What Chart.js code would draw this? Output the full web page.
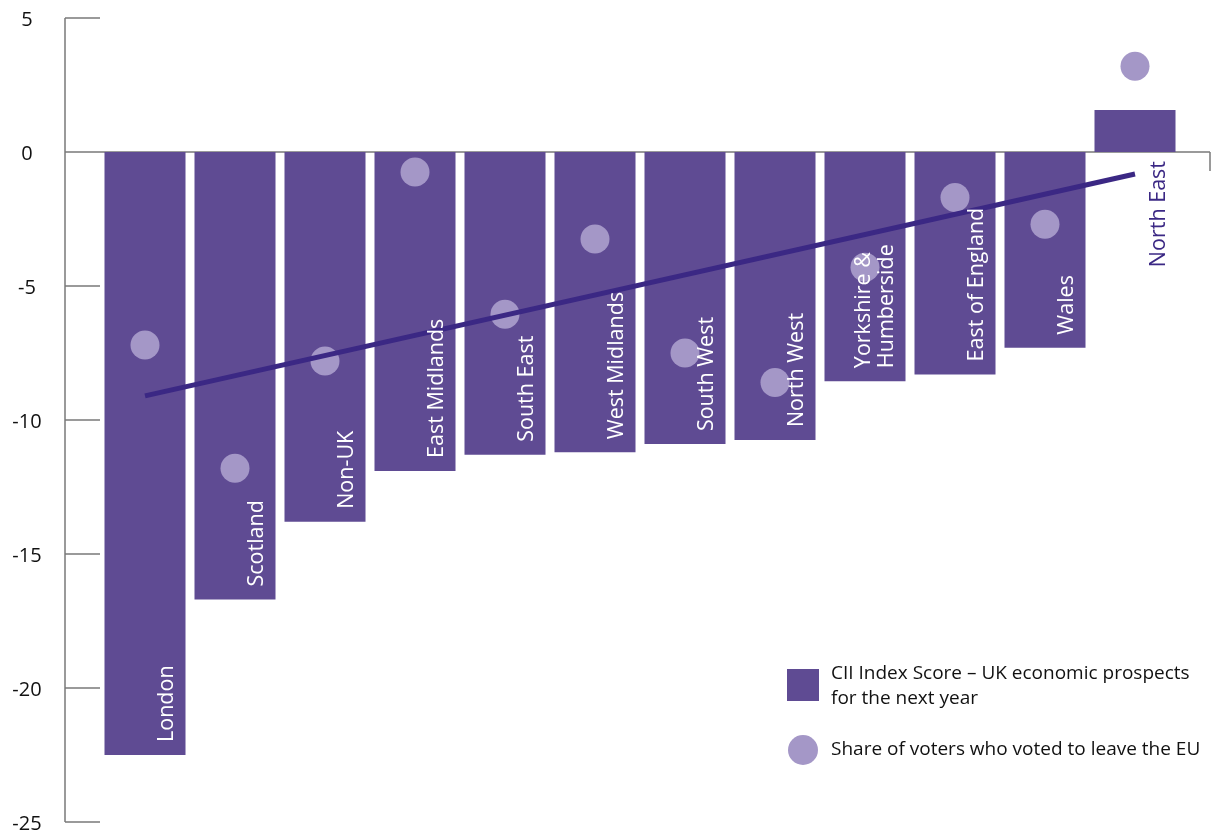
<!DOCTYPE html>
<html>
<head>
<meta charset="utf-8">
<script src="https://cdn.jsdelivr.net/npm/chart.js@4.4.1/dist/chart.umd.min.js"></script>
<style>
  html, body { margin: 0; padding: 0; background: #fff; }
  #wrap { position: relative; width: 1211px; height: 833px; }
</style>
</head>
<body>
<div id="wrap"><canvas id="graph1"></canvas></div>
<script>
var regions = [['London'], ['Scotland'], ['Non-UK'], ['East Midlands'], ['South East'], ['West Midlands'],
  ['South West'], ['North West'], ['Yorkshire &', 'Humberside'], ['East of England'], ['Wales'], ['North East']];
var ciiScore = [-22.5, -16.7, -13.8, -11.9, -11.3, -11.2, -10.9, -10.75, -8.55, -8.3, -7.3, 1.57];
var leaveShare = [-7.2, -11.8, -7.8, -0.75, -6.05, -3.25, -7.5, -8.6, -4.3, -1.7, -2.7, 3.2];
var trendLine = [-9.1, null, null, null, null, null, null, null, null, null, null, -0.82];
var yTicks = [5, 0, -5, -10, -15, -20, -25];

var barColor = '#5f4b93';
var dotColor = '#a497c7';
var lineColor = '#3b2884';
var fontName = "'Open Sans', 'Noto Sans', sans-serif";

  // axes, tick labels, bar labels and legend drawn by hand
  const extras = {
    id: 'extras',
    beforeDatasetsDraw(chart) {
      const ctx = chart.ctx;
      const y = chart.scales.y;
      const axX = 65;
      ctx.save();
      ctx.strokeStyle = '#7a7a7a';
      ctx.lineWidth = 1.5;
      ctx.beginPath();
      ctx.moveTo(axX, y.getPixelForValue(5));
      ctx.lineTo(axX, y.getPixelForValue(-25));
      yTicks.forEach(function (t) {
        var py = y.getPixelForValue(t);
        ctx.moveTo(axX, py);
        ctx.lineTo(t === 0 ? 1210 : 100, py);
      });
      var zy = y.getPixelForValue(0);
      ctx.moveTo(1210, zy);
      ctx.lineTo(1210, zy + 19);
      ctx.stroke();

      ctx.fillStyle = '#111';
      ctx.font = '20px ' + fontName;
      ctx.textAlign = 'center';
      ctx.textBaseline = 'middle';
      yTicks.forEach(function (t) {
        ctx.fillText(String(t), 27, y.getPixelForValue(t) + 2);
      });
      ctx.restore();
    },
    afterDatasetsDraw(chart) {
      const ctx = chart.ctx;
      const y = chart.scales.y;
      const bars = chart.getDatasetMeta(0).data;
      ctx.save();
      ctx.font = '21.5px ' + fontName;
      ctx.textBaseline = 'alphabetic';
      bars.forEach(function (bar, i) {
        var lines = regions[i];
        var v = ciiScore[i];
        ctx.save();
        if (v < 0) {
          ctx.translate(bar.x + 28, y.getPixelForValue(v) - 13);
          ctx.rotate(-Math.PI / 2);
          ctx.textAlign = 'left';
          ctx.fillStyle = '#ffffff';
        } else {
          ctx.translate(bar.x + 30, y.getPixelForValue(0) + 9);
          ctx.rotate(-Math.PI / 2);
          ctx.textAlign = 'right';
          ctx.fillStyle = lineColor;
        }
        for (var k = 0; k < lines.length; k++) {
          ctx.fillText(lines[k], 0, -(lines.length - 1 - k) * 23);
        }
        ctx.restore();
      });

      // legend
      ctx.fillStyle = barColor;
      ctx.fillRect(787, 669, 32, 32);
      ctx.fillStyle = dotColor;
      ctx.beginPath();
      ctx.arc(803, 750, 15, 0, Math.PI * 2);
      ctx.fill();
      ctx.fillStyle = '#111';
      ctx.font = '19px ' + fontName;
      ctx.textAlign = 'left';
      ctx.textBaseline = 'middle';
      ctx.fillText('CII Index Score \u2013 UK economic prospects', 831, 674);
      ctx.fillText('for the next year', 831, 699);
      ctx.fillText('Share of voters who voted to leave the EU', 831, 750);
      ctx.restore();
    }
  };

  const config = {
    type: 'bar',
    data: {
      labels: regions,
      datasets: [
        {
          label: 'CII Index Score \u2013 UK economic prospects for the next year',
          data: ciiScore,
          backgroundColor: barColor,
          borderWidth: 0,
          barPercentage: 0.9,
          categoryPercentage: 1,
          order: 3
        },
        {
          type: 'line',
          label: 'Share of voters who voted to leave the EU',
          data: leaveShare,
          showLine: false,
          pointRadius: 14.5,
          pointHoverRadius: 14.5,
          pointBackgroundColor: dotColor,
          pointBorderWidth: 0,
          clip: false,
          order: 2
        },
        {
          type: 'line',
          label: 'Trend',
          data: trendLine,
          spanGaps: true,
          borderColor: lineColor,
          borderWidth: 5,
          pointRadius: 0,
          order: 1
        }
      ]
    },
    options: {
      responsive: false,
      animation: false,
      layout: { padding: { left: 100, right: 31, top: 18, bottom: 11 } },
      plugins: { legend: { display: false }, tooltip: { enabled: false } },
      scales: {
        x: { display: false },
        y: { display: false, min: -25, max: 5 }
      }
    },
    plugins: [extras]
  };

  var canvas = document.getElementById('graph1');
  canvas.width = 1211;
  canvas.height = 833;
  var myChart = new Chart(canvas, config);

  // the big dots would otherwise push the plot area in from the edges
  myChart.getDatasetMeta(1).controller.getMaxOverflow = function () { return 0; };
  myChart.update();
</script>
</body>
</html>
